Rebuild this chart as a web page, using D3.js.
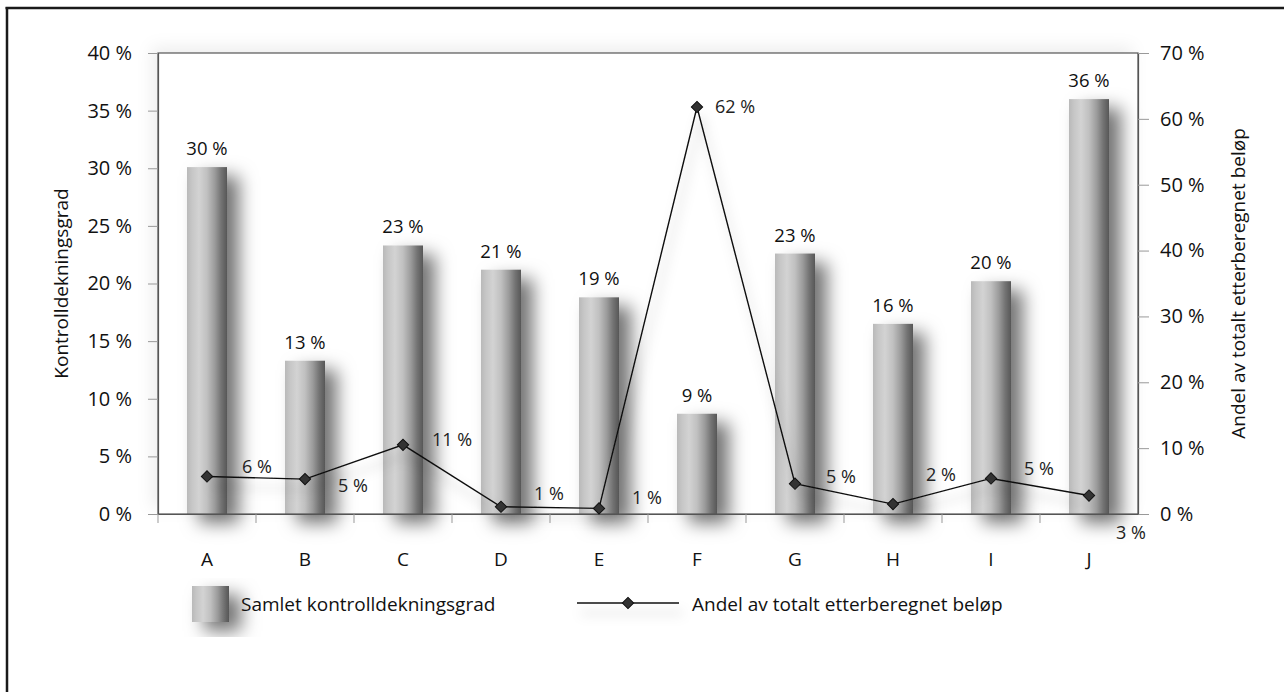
<!DOCTYPE html>
<html><head><meta charset="utf-8">
<script src="https://cdn.jsdelivr.net/npm/d3@7"></script>
<style>
html,body{margin:0;padding:0;background:#fff;}
svg{display:block;font-family:"Open Sans","Noto Sans",sans-serif;}
</style></head>
<body><svg id="c" width="1284" height="692"></svg>
<script>
const categories = ["A","B","C","D","E","F","G","H","I","J"];
const coverage = [30.1, 13.3, 23.3, 21.2, 18.8, 8.7, 22.6, 16.5, 20.2, 36.0];
const coverageLabels = ["30 %","13 %","23 %","21 %","19 %","9 %","23 %","16 %","20 %","36 %"];
const share = [5.7, 5.3, 10.5, 1.1, 0.85, 61.8, 4.6, 1.5, 5.4, 2.8];
const shareLabels = ["6 %","5 %","11 %","1 %","1 %","62 %","5 %","2 %","5 %","3 %"];
const leftTicks = [0,5,10,15,20,25,30,35,40];
const rightTicks = [0,10,20,30,40,50,60,70];
const seriesNames = ["Samlet kontrolldekningsgrad","Andel av totalt etterberegnet beløp"];
const leftTitle = "Kontrolldekningsgrad";
const rightTitle = "Andel av totalt etterberegnet beløp";
// layout: label offsets for line data labels (dx, dy)
const shareLabelOffsets = [[50,-10],[48,7],[49,-5],[48,-13],[48,-11],[38,0],[46,-7],[48,-29],[48,-10],[42,37]];

const FONT = "'Open Sans','Noto Sans',sans-serif";
const svg = d3.select("#c");
const defs = svg.append("defs");
const g = defs.append("linearGradient").attr("id","barGrad").attr("x1","0").attr("x2","1").attr("y1","0").attr("y2","0");
[[0,"#b9b9b9"],[0.12,"#c6c6c6"],[0.3,"#d3d3d3"],[0.5,"#c0c0c0"],[0.7,"#9a9a9a"],[0.85,"#747474"],[1,"#575757"]]
  .forEach(([o,c])=>g.append("stop").attr("offset",o).attr("stop-color",c));

const f1 = defs.append("filter").attr("id","barShadow").attr("x","-60%").attr("y","-20%").attr("width","300%").attr("height","160%");
f1.append("feDropShadow").attr("dx",12).attr("dy",9).attr("stdDeviation",9).attr("flood-color","#000").attr("flood-opacity",0.55);
const f2 = defs.append("filter").attr("id","lineShadow").attr("filterUnits","userSpaceOnUse")
  .attr("x",0).attr("y",0).attr("width",1284).attr("height",692);
f2.append("feDropShadow").attr("dx",4).attr("dy",10).attr("stdDeviation",6).attr("flood-color","#000").attr("flood-opacity",0.3);
const f3 = defs.append("filter").attr("id","frameShadow").attr("x","-10%").attr("y","-10%").attr("width","120%").attr("height","120%");
f3.append("feDropShadow").attr("dx",-6).attr("dy",-6).attr("stdDeviation",8).attr("flood-color","#000").attr("flood-opacity",0.07);

// outer frame (top and left visible)
svg.append("line").attr("x1",5.5).attr("x2",1284).attr("y1",8).attr("y2",8).attr("stroke","#1a1a1a").attr("stroke-width",2.5);
svg.append("line").attr("x1",7).attr("x2",7).attr("y1",7).attr("y2",692).attr("stroke","#1a1a1a").attr("stroke-width",2.5);

const L=158, R=1138, T=53, B=514;
const x = d3.scaleBand().domain(categories).range([L,R]).paddingInner(0).paddingOuter(0);
const yL = d3.scaleLinear().domain([0,40]).range([B,T]);
const yR = d3.scaleLinear().domain([0,70]).range([B,T]);

// plot frame with subtle shadow
svg.append("rect").attr("x",L).attr("y",T).attr("width",R-L).attr("height",B-T)
  .attr("fill","#fff").attr("filter","url(#frameShadow)");

// bars
const bw = 40;
svg.append("g").selectAll("rect").data(categories).join("rect")
  .attr("x",d=>x(d)+x.bandwidth()/2-bw/2)
  .attr("y",(d,i)=>yL(coverage[i]))
  .attr("width",bw)
  .attr("height",(d,i)=>B-yL(coverage[i]))
  .attr("fill","url(#barGrad)")
  .attr("filter","url(#barShadow)");

// frame border
svg.append("rect").attr("x",L).attr("y",T).attr("width",R-L).attr("height",B-T)
  .attr("fill","none").attr("stroke","#555").attr("stroke-width",1.2);

// axes
const fmt = d=>d+" %";
const axL = svg.append("g").attr("transform",`translate(${L},0)`)
  .call(d3.axisLeft(yL).tickValues(leftTicks).tickFormat(fmt).tickSize(10).tickPadding(16));
const axR = svg.append("g").attr("transform",`translate(${R},0)`)
  .call(d3.axisRight(yR).tickValues(rightTicks).tickFormat(fmt).tickSize(11).tickPadding(11));
const axB = svg.append("g").attr("transform",`translate(0,${B})`)
  .call(d3.axisBottom(x).tickSize(0).tickPadding(52));
[axL,axR,axB].forEach(a=>{
  a.attr("font-size",20).attr("font-family",FONT);
  a.select(".domain").attr("stroke","#555").attr("stroke-width",1.2);
  a.selectAll(".tick line").attr("stroke","#999");
  a.selectAll("text").attr("fill","#111");
});
axB.attr("font-size",19);
axB.selectAll("text").attr("dy","0");
// x ticks at band boundaries
svg.append("g").selectAll("line").data(categories.slice(1)).join("line")
  .attr("x1",d=>x(d)).attr("x2",d=>x(d)).attr("y1",B).attr("y2",B+9)
  .attr("stroke","#999");
svg.append("line").attr("x1",L).attr("x2",L).attr("y1",B).attr("y2",B+9).attr("stroke","#999");

// bar labels
svg.append("g").selectAll("text").data(categories).join("text")
  .attr("x",d=>x(d)+x.bandwidth()/2)
  .attr("y",(d,i)=>yL(coverage[i])-12)
  .attr("text-anchor","middle").attr("font-size",18.5).attr("fill","#111")
  .text((d,i)=>coverageLabels[i]);

// line
const cx = d=>x(d)+x.bandwidth()/2;
const lineGen = d3.line().x((d,i)=>cx(categories[i])).y(d=>yR(d));
svg.append("path").datum(share).attr("d",lineGen).attr("fill","none")
  .attr("stroke","#111").attr("stroke-width",1.4).attr("filter","url(#lineShadow)");
svg.append("g").selectAll("path").data(share).join("path")
  .attr("d",d3.symbol().type(d3.symbolSquare).size(64))
  .attr("transform",(d,i)=>`translate(${cx(categories[i])},${yR(d)}) rotate(45)`)
  .attr("fill","#333").attr("stroke","#111").attr("stroke-width",1);

svg.append("g").selectAll("text").data(share).join("text")
  .attr("x",(d,i)=>cx(categories[i])+shareLabelOffsets[i][0])
  .attr("y",(d,i)=>yR(d)+shareLabelOffsets[i][1])
  .attr("dy","0.35em")
  .attr("text-anchor","middle").attr("font-size",18).attr("fill","#222")
  .text((d,i)=>shareLabels[i]);

// axis titles
svg.append("text").attr("transform",`translate(68,${(T+B)/2}) rotate(-90)`)
  .attr("text-anchor","middle").attr("font-size",19).attr("fill","#111").text(leftTitle);
svg.append("text").attr("transform",`translate(1245,${(T+B)/2}) rotate(-90)`)
  .attr("text-anchor","middle").attr("font-size",19).attr("fill","#111").text(rightTitle);

// legend
const lg = svg.append("g");
lg.append("rect").attr("x",192).attr("y",586).attr("width",37).attr("height",36)
  .attr("fill","url(#barGrad)").attr("filter","url(#barShadow)");
lg.append("text").attr("x",241).attr("y",604).attr("dy","0.35em").attr("font-size",19).attr("fill","#111").text(seriesNames[0]);
lg.append("line").attr("x1",577).attr("x2",679).attr("y1",603).attr("y2",603)
  .attr("stroke","#111").attr("stroke-width",1.4).attr("filter","url(#lineShadow)");
lg.append("path").attr("d",d3.symbol().type(d3.symbolSquare).size(64))
  .attr("transform","translate(628,603) rotate(45)").attr("fill","#333").attr("stroke","#111");
lg.append("text").attr("x",692).attr("y",604).attr("dy","0.35em").attr("font-size",19).attr("fill","#111").text(seriesNames[1]);
</script></body></html>
